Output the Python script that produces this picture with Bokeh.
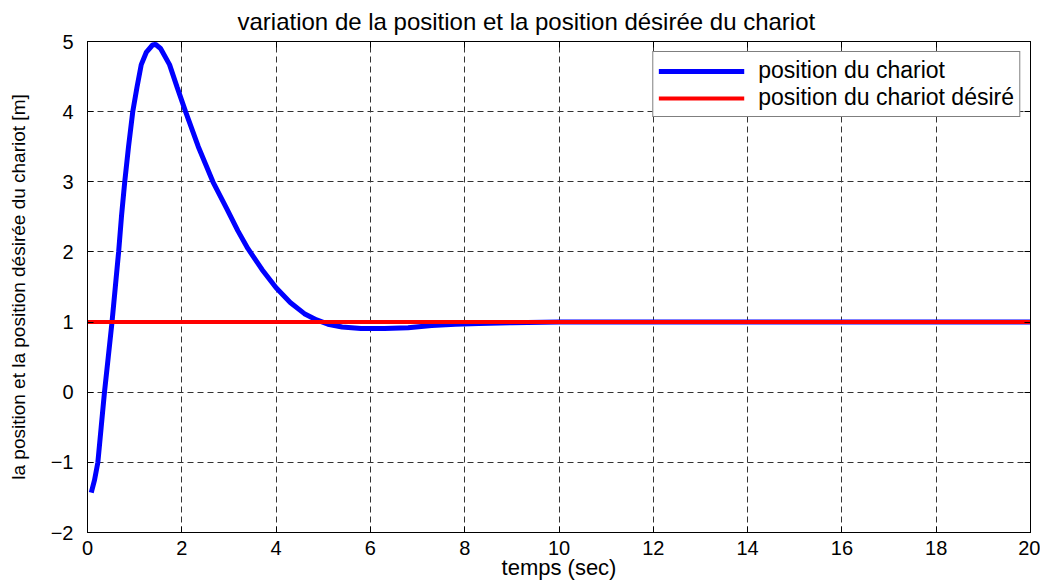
from bokeh.plotting import figure
from bokeh.models import Legend, LegendItem, LinearAxis, SingleIntervalTicker, Range1d, ColumnDataSource
from bokeh.embed import file_html
from bokeh.resources import INLINE

# ---- data ----
t_pos = [0.08, 0.15, 0.22, 0.29, 0.36, 0.44, 0.52, 0.59, 0.66, 0.72, 0.79, 0.87, 0.96,
         1.05, 1.14, 1.25, 1.38, 1.44, 1.55, 1.74, 1.90, 2.08, 2.35, 2.66, 2.95, 3.19,
         3.40, 3.70, 4.00, 4.30, 4.60, 4.86, 5.10, 5.40, 5.80, 6.30, 6.80, 7.30, 7.80,
         8.30, 9.00, 10.0, 12.0, 14.0, 16.0, 18.0, 20.0]
y_pos = [-1.43, -1.25, -1.00, -0.50, 0.00, 0.50, 1.00, 1.50, 2.00, 2.50, 3.00, 3.50, 4.00,
         4.35, 4.67, 4.85, 4.95, 4.96, 4.90, 4.67, 4.35, 4.00, 3.50, 3.00, 2.62, 2.30,
         2.05, 1.75, 1.49, 1.28, 1.12, 1.03, 0.97, 0.93, 0.91, 0.91, 0.92, 0.95, 0.97,
         0.98, 0.99, 1.00, 1.00, 1.00, 1.00, 1.00, 1.00]
t_des = [0.0, 20.0]
y_des = [1.0, 1.0]

title_text = "variation de la position et la position désirée du chariot"
x_label = "temps (sec)"
y_label = "la position et la position désirée du chariot [m]"
legend_labels = ["position du chariot", "position du chariot désiré"]

FONT = "Liberation Sans"

p = figure(width=1040, height=583, output_backend="svg", toolbar_location=None, tools="",
           x_range=Range1d(0, 20), y_range=Range1d(-2, 5),
           min_border_left=87, min_border_right=10, min_border_top=41, min_border_bottom=51)

p.title.text = title_text
p.title.text_font = FONT
p.title.text_font_size = "24px"
p.title.text_font_style = "normal"
p.title.text_color = "black"
p.title.align = "left"
p.title.offset = 150
p.title.standoff = 6

p.outline_line_color = "black"
p.outline_line_width = 1
p.background_fill_color = "white"
p.border_fill_color = "white"

p.xaxis.ticker = SingleIntervalTicker(interval=2)
p.yaxis.ticker = SingleIntervalTicker(interval=1)

for ax in (p.xaxis[0], p.yaxis[0]):
    ax.major_tick_in = 6
    ax.major_tick_out = 0
    ax.minor_tick_line_color = None
    ax.axis_line_color = "black"
    ax.major_tick_line_color = "black"
    ax.major_label_text_font = FONT
    ax.major_label_text_font_size = "20px"
    ax.major_label_text_color = "black"
    ax.axis_label_text_font = FONT
    ax.axis_label_text_font_style = "normal"
    ax.axis_label_text_color = "black"

p.xaxis.major_label_standoff = 4
p.xaxis.axis_label = x_label
p.xaxis.axis_label_text_font_size = "22px"
p.xaxis.axis_label_standoff = -3

p.yaxis.major_label_standoff = 10
p.yaxis.axis_label = y_label
p.yaxis.axis_label_text_font_size = "19px"
p.yaxis.axis_label_standoff = 19

# top / right axes with inward ticks only
top = LinearAxis(ticker=SingleIntervalTicker(interval=2), major_tick_in=6, major_tick_out=0,
                 minor_tick_line_color=None, major_label_text_color=None,
                 major_label_text_font_size="1px", major_label_standoff=0)
right = LinearAxis(ticker=SingleIntervalTicker(interval=1), major_tick_in=6, major_tick_out=0,
                   minor_tick_line_color=None, major_label_text_color=None,
                   major_label_text_font_size="1px", major_label_standoff=0)
p.add_layout(top, "above")
p.add_layout(right, "right")

p.grid.grid_line_color = "#333333"
p.grid.grid_line_dash = "6 4"
p.grid.grid_line_width = 1

src_pos = ColumnDataSource(dict(t=t_pos, y=y_pos))
src_des = ColumnDataSource(dict(t=t_des, y=y_des))
r_pos = p.line("t", "y", source=src_pos, line_color="#0000FF", line_width=5)
r_des = p.line("t", "y", source=src_des, line_color="#FF0000", line_width=4)

legend = Legend(items=[LegendItem(label=legend_labels[0], renderers=[r_pos]),
                       LegendItem(label=legend_labels[1], renderers=[r_des])],
                location="top_right", margin=10, padding=5, spacing=0,
                glyph_width=86, glyph_height=20, label_height=20, label_standoff=14,
                label_text_font=FONT, label_text_font_size="23px", label_text_color="black",
                border_line_color="black", border_line_width=1,
                background_fill_color="white", background_fill_alpha=1.0)
p.add_layout(legend)

open("out.html", "w").write(file_html(p, INLINE))
